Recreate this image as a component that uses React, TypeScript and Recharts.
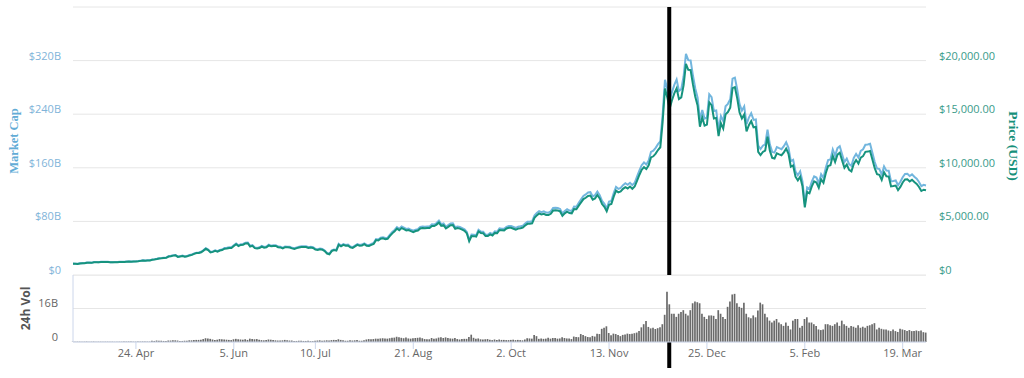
import React from 'react';
import { LineChart, ComposedChart, Line, Bar, XAxis, YAxis, CartesianGrid, ReferenceLine } from 'recharts';

// ---- Data (daily, 28 Mar 2017 – 29 Mar 2018) ----
// each month: [year, monthIndex, first day]
const monthStarts: [number, number, number][] = [
  [2017, 2, 28], [2017, 3, 1], [2017, 4, 1], [2017, 5, 1], [2017, 6, 1], [2017, 7, 1], [2017, 8, 1],
  [2017, 9, 1], [2017, 10, 1], [2017, 11, 1], [2018, 0, 1], [2018, 1, 1], [2018, 2, 1],
];

// Price (USD)
const priceMar17 = [1046, 1039, 1035, 1072];
const priceApr17 = [1086, 1097, 1144, 1143, 1133, 1190, 1189, 1182, 1206, 1205, 1216, 1205, 1180, 1180, 1185, 1187, 1205, 1209, 1223, 1244, 1250, 1243, 1251, 1257, 1281, 1317, 1346, 1334, 1349, 1348];
const priceMay17 = [1421, 1453, 1490, 1537, 1555, 1578, 1596, 1724, 1756, 1807, 1830, 1685, 1730, 1773, 1704, 1740, 1828, 1877, 1971, 2044, 2051, 2124, 2272, 2446, 2321, 2107, 2155, 2255, 2175, 2286, 2330];
const priceJun17 = [2453, 2481, 2526, 2519, 2699, 2868, 2699, 2809, 2823, 2948, 2959, 2659, 2717, 2507, 2469, 2518, 2654, 2548, 2591, 2762, 2675, 2710, 2711, 2590, 2572, 2480, 2591, 2579, 2566, 2480];
const priceJul17 = [2434, 2507, 2564, 2601, 2602, 2608, 2518, 2572, 2519, 2373, 2337, 2398, 2357, 2233, 1999, 1930, 2228, 2319, 2273, 2818, 2668, 2810, 2730, 2754, 2577, 2530, 2672, 2810, 2726, 2758, 2875];
const priceAug17 = [2718, 2710, 2805, 2895, 3252, 3213, 3379, 3419, 3342, 3381, 3650, 3884, 4073, 4326, 4181, 4377, 4276, 4160, 4194, 4088, 4002, 4100, 4151, 4334, 4372, 4353, 4382, 4382, 4579, 4565, 4703];
const priceSep17 = [4892, 4579, 4655, 4345, 4488, 4641, 4654, 4310, 4376, 4329, 4226, 4122, 3882, 3155, 3637, 3625, 3582, 4065, 3924, 3905, 3632, 3630, 3792, 3682, 3926, 3892, 4200, 4174, 4163, 4338];
const priceOct17 = [4403, 4409, 4317, 4229, 4328, 4370, 4426, 4611, 4773, 4782, 4819, 5325, 5563, 5739, 5647, 5711, 5603, 5591, 5708, 6011, 6031, 6009, 5930, 5527, 5750, 5904, 5780, 5753, 6153, 6130, 6468];
const priceNov17 = [6767, 7078, 7207, 7379, 7407, 7022, 7144, 7459, 7143, 6618, 6357, 5950, 6559, 6635, 7315, 7871, 7708, 7790, 8036, 8200, 8071, 8253, 8038, 8253, 8791, 9330, 9818, 10058, 9888, 10233];
const priceDec17 = [10975, 11074, 11323, 11657, 11916, 14291, 17400, 16569, 15500, 16300, 16937, 17415, 16408, 16564, 17706, 19700, 19140, 19114, 17776, 16624, 15802, 13831, 14700, 13926, 14027, 16099, 15838, 14606, 14656, 12952, 14156];
const priceJan18 = [13657, 14982, 15201, 15599, 17429, 17527, 16477, 15170, 14595, 14973, 13405, 13980, 14360, 13773, 13819, 11490, 11188, 11475, 11607, 12899, 11600, 10931, 10868, 11359, 11259, 11171, 11441, 11787, 11296, 10106, 10221];
const priceFeb18 = [9171, 8830, 9174, 8277, 6300, 7754, 7621, 8265, 8736, 8621, 8129, 8926, 8598, 9494, 10166, 10233, 11112, 10551, 11225, 11403, 10690, 10005, 10301, 9813, 9664, 10366, 10725, 10397];
const priceMar18 = [10951, 11086, 11489, 11512, 11573, 10780, 9965, 9395, 9337, 8866, 9578, 9205, 9194, 8270, 8300, 8338, 7916, 8223, 8630, 8913, 8929, 8729, 8879, 8668, 8495, 8210, 7834, 7954, 7900];

// Market cap (billions USD)
const mcapMar17 = [17.0, 16.9, 16.8, 17.4];
const mcapApr17 = [17.6, 17.8, 18.6, 18.6, 18.4, 19.3, 19.3, 19.2, 19.6, 19.6, 19.8, 19.6, 19.2, 19.2, 19.3, 19.3, 19.6, 19.6, 19.9, 20.2, 20.3, 20.2, 20.3, 20.4, 20.8, 21.4, 21.9, 21.7, 21.9, 21.9];
const mcapMay17 = [23.2, 23.7, 24.3, 25.1, 25.4, 25.8, 26.0, 28.1, 28.7, 29.5, 29.9, 27.5, 28.2, 28.9, 27.8, 28.4, 29.8, 30.6, 32.2, 33.4, 33.5, 34.7, 37.1, 39.9, 37.9, 34.4, 35.2, 36.8, 35.5, 37.3, 38.0];
const mcapJun17 = [40.2, 40.7, 41.4, 41.3, 44.2, 47.0, 44.2, 46.0, 46.3, 48.3, 48.5, 43.6, 44.5, 41.1, 40.5, 41.3, 43.5, 41.8, 42.5, 45.3, 43.8, 44.4, 44.4, 42.5, 42.2, 40.6, 42.5, 42.3, 42.1, 40.6];
const mcapJul17 = [40.0, 41.2, 42.2, 42.8, 42.8, 42.9, 41.4, 42.3, 41.4, 39.0, 38.4, 39.4, 38.8, 36.7, 32.9, 31.7, 36.7, 38.1, 37.4, 46.4, 43.9, 46.2, 44.9, 45.3, 42.4, 41.6, 44.0, 46.2, 44.8, 45.4, 47.3];
const mcapAug17 = [44.9, 44.7, 46.3, 47.8, 53.7, 53.0, 55.8, 56.4, 55.2, 55.8, 60.3, 64.1, 67.2, 71.4, 69.0, 72.3, 70.6, 68.7, 69.2, 67.5, 66.1, 67.7, 68.5, 71.6, 72.2, 71.9, 72.3, 72.3, 75.6, 75.4, 77.6];
const mcapSep17 = [81.1, 75.9, 77.1, 72.0, 74.4, 76.9, 77.1, 71.4, 72.5, 71.7, 70.0, 68.3, 64.3, 52.3, 60.3, 60.1, 59.4, 67.4, 65.0, 64.7, 60.2, 60.1, 62.8, 61.0, 65.1, 64.5, 69.6, 69.2, 69.0, 71.9];
const mcapOct17 = [73.2, 73.3, 71.8, 70.3, 72.0, 72.7, 73.6, 76.7, 79.4, 79.5, 80.1, 88.6, 92.5, 95.4, 93.9, 95.0, 93.2, 93.0, 94.9, 100.0, 100.3, 99.9, 98.6, 91.9, 95.6, 98.2, 96.1, 95.7, 102.3, 101.9, 107.6];
const mcapNov17 = [112.9, 118.1, 120.3, 123.2, 123.6, 117.2, 119.2, 124.5, 119.2, 110.5, 106.1, 99.3, 109.5, 110.7, 122.1, 131.4, 128.6, 130.0, 134.1, 136.9, 134.7, 137.7, 134.2, 137.7, 146.7, 155.7, 163.9, 167.9, 165.0, 170.8];
const mcapDec17 = [183.8, 185.5, 189.7, 195.3, 199.6, 239.4, 291.5, 277.5, 259.6, 273.0, 283.7, 291.7, 274.8, 277.4, 296.6, 330.0, 320.6, 320.2, 297.7, 278.5, 264.7, 231.7, 246.2, 233.3, 235.0, 269.7, 265.3, 244.7, 245.5, 216.9, 237.1];
const mcapJan18 = [229.6, 251.8, 255.5, 262.2, 293.0, 294.6, 277.0, 255.0, 245.3, 251.7, 225.3, 235.0, 241.4, 231.5, 232.3, 193.1, 188.1, 192.9, 195.1, 216.8, 195.0, 183.8, 182.7, 190.9, 189.3, 187.8, 192.3, 198.1, 189.9, 169.9, 171.8];
const mcapFeb18 = [154.6, 148.9, 154.7, 139.5, 106.2, 130.7, 128.5, 139.3, 147.3, 145.4, 137.1, 150.5, 145.0, 160.1, 171.4, 172.5, 187.3, 177.9, 189.3, 192.3, 180.2, 168.7, 173.7, 165.4, 162.9, 174.8, 180.8, 175.3];
const mcapMar18 = [185.3, 187.6, 194.4, 194.8, 195.8, 182.4, 168.6, 159.0, 158.0, 150.0, 162.1, 155.8, 155.6, 139.9, 140.4, 141.1, 133.9, 139.1, 146.0, 150.8, 151.1, 147.7, 150.2, 146.7, 143.7, 138.9, 132.6, 134.6, 133.7];

// 24h volume (billions USD)
const volMar17 = [0.15, 0.15, 0.15, 0.15];
const volApr17 = [0.15, 0.15, 0.2, 0.15, 0.15, 0.2, 0.15, 0.15, 0.15, 0.15, 0.15, 0.15, 0.15, 0.15, 0.1, 0.1, 0.15, 0.15, 0.2, 0.2, 0.2, 0.2, 0.15, 0.15, 0.2, 0.2, 0.25, 0.2, 0.2, 0.2];
const volMay17 = [0.6, 0.5, 0.7, 0.6, 0.6, 0.5, 0.5, 0.7, 0.7, 0.8, 0.8, 0.7, 0.5, 0.5, 0.6, 0.6, 0.8, 0.8, 0.9, 1.0, 1.0, 1.1, 1.4, 1.8, 1.7, 1.5, 1.2, 1.0, 1.1, 1.4, 1.3];
const volJun17 = [1.2, 1.1, 1.0, 0.9, 1.3, 1.5, 1.3, 1.2, 1.1, 1.3, 1.0, 1.6, 1.4, 1.3, 1.4, 1.1, 0.9, 0.8, 0.9, 1.2, 1.1, 1.0, 0.8, 0.7, 0.7, 0.8, 1.0, 0.8, 0.7, 0.7];
const volJul17 = [0.5, 0.5, 0.6, 0.6, 0.5, 0.5, 0.6, 0.4, 0.4, 0.6, 0.7, 0.8, 0.6, 0.7, 0.8, 0.7, 0.9, 1.0, 0.9, 1.3, 1.0, 0.8, 0.6, 0.6, 0.8, 0.7, 0.8, 0.9, 0.6, 0.6, 0.8];
const volAug17 = [1.2, 1.4, 1.3, 1.4, 1.6, 1.5, 1.7, 1.8, 1.7, 1.6, 1.8, 2.0, 2.1, 2.5, 2.3, 2.0, 1.8, 2.2, 1.7, 1.6, 1.8, 1.9, 2.0, 2.2, 1.8, 1.4, 1.3, 1.3, 1.9, 1.6, 1.7];
const volSep17 = [2.1, 2.3, 1.9, 2.2, 1.9, 1.7, 1.6, 1.9, 1.4, 1.2, 1.4, 1.5, 1.5, 2.4, 3.5, 2.0, 1.6, 1.7, 1.3, 1.2, 1.3, 1.4, 1.1, 0.9, 1.2, 1.0, 1.2, 1.0, 1.0, 0.9];
const volOct17 = [0.9, 1.0, 1.1, 0.9, 1.0, 0.9, 0.8, 1.2, 1.8, 1.7, 1.6, 3.3, 2.8, 1.5, 1.7, 1.5, 1.6, 2.0, 1.6, 1.9, 1.9, 1.6, 1.7, 2.3, 1.9, 1.7, 1.7, 1.4, 2.6, 2.4, 2.3];
const volNov17 = [3.8, 3.3, 2.8, 2.4, 2.3, 2.9, 2.6, 4.0, 3.8, 6.3, 6.8, 7.5, 4.3, 3.2, 4.0, 3.8, 3.3, 2.8, 3.4, 3.6, 4.0, 3.8, 3.9, 4.2, 4.5, 5.2, 7.0, 8.5, 10.0, 7.2];
const volDec17 = [6.5, 6.8, 6.2, 6.6, 7.0, 8.5, 13.0, 24.0, 18.0, 13.5, 13.5, 12.0, 13.5, 14.3, 15.2, 13.5, 12.7, 15.2, 18.5, 19.3, 19.0, 18.5, 13.5, 12.0, 11.0, 12.7, 12.7, 12.5, 11.0, 15.2, 13.5];
const volJan18 = [12.0, 11.0, 16.8, 19.3, 22.7, 23.0, 18.5, 16.8, 16.3, 18.8, 13.5, 11.8, 11.3, 12.7, 11.8, 15.0, 18.8, 18.0, 13.5, 11.8, 10.2, 9.3, 10.2, 11.0, 9.3, 8.5, 7.7, 9.3, 7.7, 6.0, 10.2];
const volFeb18 = [11.0, 11.0, 6.8, 7.7, 11.0, 11.8, 9.3, 9.3, 8.5, 7.7, 6.0, 5.7, 6.0, 8.5, 8.5, 8.0, 7.7, 8.5, 9.3, 7.7, 10.2, 8.5, 7.7, 6.8, 7.7, 7.3, 6.8, 8.0];
const volMar18 = [6.8, 7.3, 6.8, 7.7, 8.0, 8.5, 9.0, 6.0, 6.8, 6.3, 6.0, 6.0, 5.5, 5.2, 6.0, 5.2, 4.8, 6.3, 6.0, 5.7, 5.2, 5.7, 5.2, 5.2, 5.5, 5.2, 5.5, 4.7, 4.5];

const priceMonths = [priceMar17, priceApr17, priceMay17, priceJun17, priceJul17, priceAug17, priceSep17, priceOct17, priceNov17, priceDec17, priceJan18, priceFeb18, priceMar18];
const mcapMonths = [mcapMar17, mcapApr17, mcapMay17, mcapJun17, mcapJul17, mcapAug17, mcapSep17, mcapOct17, mcapNov17, mcapDec17, mcapJan18, mcapFeb18, mcapMar18];
const volMonths = [volMar17, volApr17, volMay17, volJun17, volJul17, volAug17, volSep17, volOct17, volNov17, volDec17, volJan18, volFeb18, volMar18];

// X-axis ticks
const tickDates: [number, number, number][] = [
  [2017, 3, 24], [2017, 5, 5], [2017, 6, 10], [2017, 7, 21], [2017, 9, 2], [2017, 10, 13], [2017, 11, 25], [2018, 1, 5], [2018, 2, 19],
];
const tickLabels = ['24. Apr', '5. Jun', '10. Jul', '21. Aug', '2. Oct', '13. Nov', '25. Dec', '5. Feb', '19. Mar'];

// Y-axis ticks
const mcapTicks = [0, 80, 160, 240, 320, 400];
const priceTicks = [0, 5000, 10000, 15000, 20000];
const volTicks = [0, 16, 32];

// Marker (black vertical line)
const markerDate: [number, number, number, number] = [2017, 11, 8, 20];

// ---- Build table ----
const rows: { t: number; price: number; mcap: number; vol: number }[] = [];
monthStarts.forEach(([y, m, d0], mi) => {
  priceMonths[mi].forEach((p, j) => {
    rows.push({ t: Date.UTC(y, m, d0 + j), price: p, mcap: mcapMonths[mi][j], vol: volMonths[mi][j] });
  });
});
const tickTimes = tickDates.map(([y, m, d]) => Date.UTC(y, m, d));
const markerT = Date.UTC(markerDate[0], markerDate[1], markerDate[2], markerDate[3]);

const FONT = '"Open Sans", "DejaVu Sans", sans-serif';
const GRID = '#e6e6e6';
const AXIS = '#ccd6eb';
const PRICE_COLOR = '#16937e';
const MCAP_COLOR = '#72b6de';

const fmtPrice = (v: number) =>
  v === 0 ? '$0' : '$' + v.toLocaleString('en-US', { minimumFractionDigits: 2, maximumFractionDigits: 2 });
const fmtMcap = (v: number) => (v === 0 ? '$0' : `$${v}B`);
const fmtVol = (v: number) => (v === 0 ? '0' : `${v}B`);

const makeTick = (fmt: (v: number) => string, fill: string, anchor: 'start' | 'end', hideVal?: number) =>
  (props: any) => {
    const { x, y, payload } = props;
    if (hideVal !== undefined && payload.value === hideVal) return <g />;
    return (
      <text x={x} y={y - 5} dy="0.355em" textAnchor={anchor} fill={fill} fontSize={11} fontFamily={FONT}>
        {fmt(payload.value)}
      </text>
    );
  };

const makeTitle = (text: string, dx: number, dy: number, rot: number, fill: string, family: string, size: number) =>
  (props: any) => {
    const vb = props.viewBox || {};
    const x = (vb.x || 0) + dx;
    const y = (vb.y || 0) + (vb.height || 0) / 2 + dy;
    return (
      <text x={x} y={y} transform={`rotate(${rot} ${x} ${y})`} textAnchor="middle" dominantBaseline="central"
        fill={fill} fontSize={size} fontWeight="bold" fontFamily={family}>
        {text}
      </text>
    );
  };

const XTick = (props: any) => {
  const { x, y, payload } = props;
  const idx = tickTimes.indexOf(payload.value);
  return (
    <text x={x} y={y} dy="0.71em" textAnchor="middle" fill="#666666" fontSize={11} fontFamily={FONT}>
      {idx >= 0 ? tickLabels[idx] : ''}
    </text>
  );
};

export default function App() {
  return (
    <div style={{ position: 'absolute', left: 0, top: 0, width: 1024, height: 378, background: '#ffffff', fontFamily: FONT }}>
      <div style={{ position: 'absolute', left: 0, top: 0 }}>
        <LineChart width={1024} height={276} data={rows} margin={{ top: 7, right: 0, bottom: 1, left: 0 }}>
          <CartesianGrid yAxisId="mc" vertical={false} stroke={GRID} />
          <XAxis dataKey="t" type="number" domain={['dataMin', 'dataMax']} hide />
          <YAxis
            yAxisId="mc"
            domain={[0, 400]}
            ticks={mcapTicks}
            width={73}
            axisLine={false}
            tickLine={false}
            tickSize={0}
            tickMargin={12}
            interval={0}
            tick={makeTick(fmtMcap, '#7fb4d9', 'end', 400)}
            label={{ content: makeTitle('Market Cap', 14, 0, -90, '#62acd6', '"Liberation Serif", serif', 12.5) }}
          />
          <YAxis
            yAxisId="px"
            orientation="right"
            domain={[0, 25000]}
            ticks={priceTicks}
            width={98}
            axisLine={false}
            tickLine={false}
            tickSize={0}
            tickMargin={13}
            interval={0}
            tick={makeTick(fmtPrice, '#3a9b8a', 'start')}
            label={{ content: makeTitle('Price (USD)', 87, 5, 90, '#16907a', '"Liberation Serif", serif', 13.5) }}
          />
          <Line yAxisId="mc" type="linear" dataKey="mcap" stroke={MCAP_COLOR} strokeWidth={2} dot={false} isAnimationActive={false} />
          <Line yAxisId="px" type="linear" dataKey="price" stroke={PRICE_COLOR} strokeWidth={2} dot={false} isAnimationActive={false} />
          <ReferenceLine yAxisId="mc" x={markerT} stroke="#000000" strokeWidth={4} />
        </LineChart>
      </div>
      <div style={{ position: 'absolute', left: 0, top: 275 }}>
        <ComposedChart width={1024} height={103} data={rows} margin={{ top: 0, right: 98, bottom: 0, left: 0 }}>
          <CartesianGrid yAxisId="v" vertical={false} stroke={GRID} />
          <XAxis
            dataKey="t"
            type="number"
            domain={['dataMin', 'dataMax']}
            ticks={tickTimes}
            interval={0}
            height={36}
            stroke={AXIS}
            tickSize={7}
            tickMargin={0}
            tick={XTick}
          />
          <YAxis
            yAxisId="v"
            domain={[0, 32]}
            ticks={volTicks}
            width={73}
            axisLine={{ stroke: AXIS }}
            tickLine={false}
            tickSize={0}
            tickMargin={15}
            interval={0}
            tick={makeTick(fmtVol, '#666666', 'end', 32)}
            label={{ content: makeTitle('24h Vol', 25, 0, -90, '#555555', FONT, 12) }}
          />
          <Bar yAxisId="v" dataKey="vol" fill="#6a6a6a" barSize={1.7} isAnimationActive={false} />
          <ReferenceLine
            yAxisId="v"
            x={markerT}
            stroke="#000000"
            strokeWidth={4}
            shape={(p: any) => (
              <line x1={p.x1} y1={p.y1} x2={p.x2} y2={Math.max(p.y1, p.y2) + 26} stroke="#000000" strokeWidth={4} />
            )}
          />
        </ComposedChart>
      </div>
    </div>
  );
}
